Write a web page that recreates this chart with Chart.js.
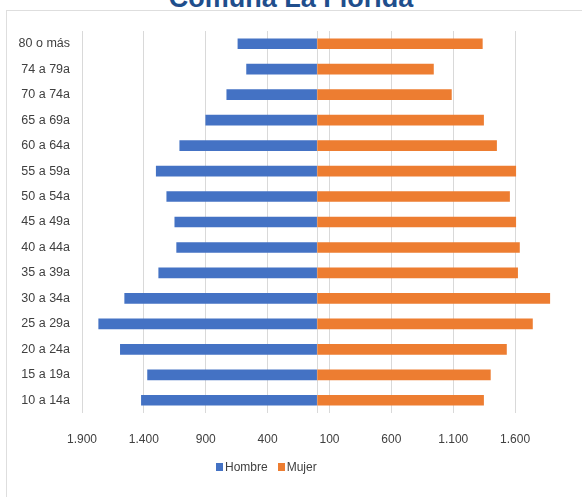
<!DOCTYPE html>
<html>
<head>
<meta charset="utf-8">
<script src="https://cdn.jsdelivr.net/npm/chart.js@4"></script>
<style>
  body { margin: 0; background: #fff; }
  #wrap { position: relative; width: 582px; height: 497px; overflow: hidden; font-family: 'Liberation Sans', Arial, sans-serif; }
  #titulo { position: absolute; left: 0; width: 582px; top: -15px; line-height: 27px; text-align: center; font-size: 27px; font-weight: bold; color: #1f4e8c; }
  #marco { position: absolute; left: 6px; top: 10px; width: 700px; height: 600px; border-top: 1px solid #dedede; border-left: 1px solid #dedede; }
  #leyenda { position: absolute; left: 216px; top: 460px; font-size: 12px; color: #404040; white-space: nowrap; }
  #leyenda span.caja { display: inline-block; width: 7px; height: 8px; margin-right: 2px; vertical-align: 0px; }
  #graf { position: absolute; left: 0; top: 0; }
</style>
</head>
<body>
<div id="wrap">
  <div id="marco"></div>
  <div id="titulo">Comuna La Florida</div>
  <canvas id="graf" width="582" height="497"></canvas>
  <div id="leyenda"><span class="caja" style="background:#4472c4"></span>Hombre &nbsp;&nbsp;<span class="caja" style="background:#ed7d31"></span>Mujer</div>
</div>
<script>
let grupos_edad=["80 o más", "74 a 79a", "70 a 74a", "65 a 69a", "60 a 64a", "55 a 59a", "50 a 54a", "45 a 49a", "40 a 44a", "35 a 39a", "30 a 34a", "25 a 29a", "20 a 24a", "15 a 19a", "10 a 14a"]
let hombre=[640, 570, 730, 900, 1110, 1300, 1215, 1150, 1135, 1280, 1555, 1765, 1590, 1370, 1420]
let mujer=[1335, 940, 1085, 1345, 1450, 1605, 1555, 1605, 1635, 1620, 1880, 1740, 1530, 1400, 1345]
let ticks_x=[-1900, -1400, -900, -400, 0, 100, 600, 1100, 1600]

function formato(v) {
  if (v === 0) return ''
  return Math.abs(v).toString().replace(/\B(?=(\d{3})+(?!\d))/g, '.')
}

var ctx = document.getElementById('graf').getContext('2d')

var chart = new Chart(ctx, {
    type: 'bar',
    data: {
      labels: grupos_edad,
      datasets: [{
        label: 'Hombre',
        data: hombre.map(v => -v),
        backgroundColor: '#4472c4',
        barThickness: 10,
      }, {
        label: 'Mujer',
        data: mujer,
        backgroundColor: '#ed7d31',
        barThickness: 10,
      }]
    },
    options: {
      indexAxis: 'y',
      responsive: false,
      animation: false,
      devicePixelRatio: 1,
      layout: { padding: { top: 31, right: 5, bottom: 31.6, left: 0 } },
      plugins: {
        legend: { display: false },
        tooltip: { enabled: false },
      },
      scales: {
        x: {
          stacked: true,
          min: -1900,
          max: 2100,
          afterBuildTicks: function(axis) {
            axis.ticks = ticks_x.map(v => ({ value: v }))
          },
          grid: { color: '#d9d9d9', lineWidth: 1, drawTicks: false },
          border: { display: false },
          ticks: {
            padding: 19,
            color: '#404040',
            font: { family: 'Liberation Sans', size: 12 },
            callback: function(v) { return formato(v) },
          },
        },
        y: {
          stacked: true,
          afterFit: function(axis) { axis.width = 82 },
          grid: { display: false, drawTicks: false },
          border: { display: false },
          ticks: {
            padding: 12,
            color: '#404040',
            font: { family: 'Liberation Sans', size: 12.5 },
          },
        },
      },
    },
    });
</script>
</body>
</html>
